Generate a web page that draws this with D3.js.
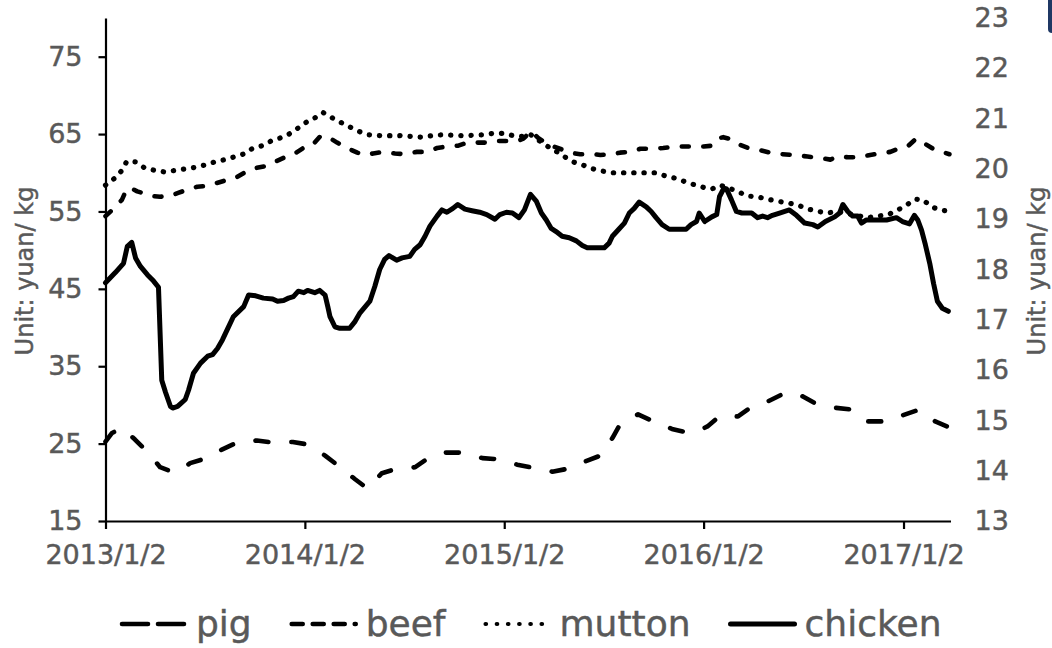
<!DOCTYPE html>
<html>
<head>
<meta charset="utf-8">
<script src="https://cdn.jsdelivr.net/npm/d3@7"></script>
<style>
  html, body { margin: 0; padding: 0; background: #fff; }
  svg { display: block; font-family: "DejaVu Sans", Verdana, sans-serif; }
  .lbl { stroke: #595959; stroke-width: 0.45px; }
</style>
</head>
<body>
<svg id="chart" width="1052" height="648"></svg>
<script>
// ---- data (weekly retail meat prices, yuan/kg) ----
const seriesNames = ["pig", "beef", "mutton", "chicken"];
const leftTicks = [15, 25, 35, 45, 55, 65, 75];
const rightTicks = [13, 14, 15, 16, 17, 18, 19, 20, 21, 22, 23];
const yearTicks = ["2013-01-02", "2014-01-02", "2015-01-02", "2016-01-02", "2017-01-02"];
const dateRange = ["2013-01-02", "2017-03-29"];
const leftRange = [15, 80];
const rightRange = [13, 23];

// pig is read on the right-hand axis
const pig = [
  ["2013-01-02",14.58],["2013-01-14",14.75],["2013-02-01",14.85],["2013-02-25",14.62],
  ["2013-03-19",14.38],["2013-04-12",14.07],["2013-05-04",13.98],["2013-05-18",14.00],
  ["2013-06-06",14.15],["2013-07-03",14.24],["2013-08-03",14.42],["2013-08-31",14.56],
  ["2013-10-06",14.60],["2013-11-03",14.56],["2013-12-11",14.57],["2014-01-08",14.52],
  ["2014-02-08",14.30],["2014-03-04",14.10],["2014-04-04",13.83],["2014-04-26",13.65],
  ["2014-05-23",13.95],["2014-06-16",14.03],["2014-07-23",14.07],["2014-08-16",14.25],
  ["2014-09-16",14.36],["2014-10-17",14.36],["2014-11-23",14.25],["2014-12-20",14.23],
  ["2015-01-26",14.12],["2015-02-18",14.07],["2015-03-31",13.98],["2015-04-24",14.03],
  ["2015-06-03",14.20],["2015-06-27",14.30],["2015-07-19",14.65],["2015-08-02",14.92],
  ["2015-09-04",15.12],["2015-10-02",14.98],["2015-11-05",14.83],["2015-12-03",14.76],
  ["2015-12-21",14.78],["2016-01-09",14.88],["2016-01-31",15.08],["2016-03-05",15.08],
  ["2016-03-27",15.25],["2016-04-29",15.38],["2016-05-27",15.53],["2016-06-12",15.55],
  ["2016-07-01",15.48],["2016-07-24",15.34],["2016-08-30",15.25],["2016-09-26",15.22],
  ["2016-10-28",14.98],["2016-11-30",14.98],["2016-12-31",15.10],["2017-01-27",15.20],
  ["2017-02-11",15.15],["2017-03-01",14.98],["2017-03-25",14.87]
];

const beef = [
  ["2013-01-02",54.4],["2013-01-19",55.5],["2013-02-01",56.5],["2013-02-08",57.6],
  ["2013-02-15",58.1],["2013-03-01",57.6],["2013-03-15",57.3],["2013-03-28",57.0],
  ["2013-04-12",56.9],["2013-04-30",57.0],["2013-05-15",57.4],["2013-05-31",57.8],
  ["2013-06-19",58.2],["2013-07-07",58.3],["2013-07-21",58.6],["2013-08-09",59.0],
  ["2013-08-27",59.3],["2013-09-18",60.2],["2013-10-03",60.6],["2013-10-25",60.9],
  ["2013-11-05",61.3],["2013-11-23",61.9],["2013-12-11",62.3],["2013-12-30",63.2],
  ["2014-01-15",63.5],["2014-01-30",64.7],["2014-02-12",64.7],["2014-03-02",63.9],
  ["2014-03-20",63.2],["2014-04-08",62.6],["2014-04-22",62.3],["2014-05-07",62.5],
  ["2014-05-25",62.7],["2014-06-16",62.5],["2014-07-04",62.4],["2014-07-26",62.7],
  ["2014-08-14",62.7],["2014-09-01",63.2],["2014-09-19",63.4],["2014-10-10",63.5],
  ["2014-10-26",63.9],["2014-11-13",63.9],["2014-12-02",63.9],["2014-12-20",64.1],
  ["2015-01-07",64.1],["2015-01-26",64.1],["2015-02-06",64.4],["2015-02-20",65.4],
  ["2015-03-05",64.5],["2015-03-18",63.9],["2015-04-02",63.4],["2015-04-18",63.0],
  ["2015-05-03",62.6],["2015-05-21",62.4],["2015-06-14",62.4],["2015-06-27",62.3],
  ["2015-07-19",62.4],["2015-08-02",62.6],["2015-08-21",62.7],["2015-09-08",63.1],
  ["2015-09-30",63.1],["2015-10-20",63.2],["2015-11-15",63.4],["2015-12-08",63.4],
  ["2016-01-02",63.4],["2016-01-19",63.5],["2016-02-01",64.5],["2016-02-07",64.6],
  ["2016-02-23",64.3],["2016-03-09",63.6],["2016-03-27",63.1],["2016-04-15",62.9],
  ["2016-05-03",62.6],["2016-05-25",62.4],["2016-06-14",62.3],["2016-07-10",62.1],
  ["2016-08-03",61.9],["2016-08-21",61.7],["2016-09-03",62.1],["2016-09-23",62.0],
  ["2016-10-11",62.0],["2016-11-02",62.3],["2016-11-20",62.5],["2016-12-09",62.7],
  ["2016-12-23",63.1],["2017-01-11",63.5],["2017-01-25",64.4],["2017-02-07",63.9],
  ["2017-02-25",63.1],["2017-03-14",62.7],["2017-03-27",62.4]
];

const mutton = [
  ["2013-01-02",58.4],["2013-01-19",59.3],["2013-02-01",60.3],["2013-02-10",61.5],
  ["2013-02-27",61.4],["2013-03-15",60.6],["2013-04-03",60.3],["2013-04-21",60.1],
  ["2013-05-09",60.3],["2013-05-28",60.5],["2013-06-15",60.7],["2013-07-03",61.0],
  ["2013-07-21",61.4],["2013-08-09",61.7],["2013-08-23",62.0],["2013-09-11",62.4],
  ["2013-09-27",63.1],["2013-10-16",63.5],["2013-11-01",64.1],["2013-11-18",64.5],
  ["2013-12-04",65.0],["2013-12-21",65.8],["2014-01-06",66.6],["2014-01-23",67.2],
  ["2014-02-04",67.8],["2014-02-21",67.1],["2014-03-09",66.5],["2014-03-26",65.9],
  ["2014-04-09",65.4],["2014-04-28",64.9],["2014-05-20",64.8],["2014-06-25",64.8],
  ["2014-07-14",64.7],["2014-08-05",64.6],["2014-08-23",64.8],["2014-09-10",64.9],
  ["2014-10-17",64.8],["2014-11-24",64.9],["2014-12-13",65.1],["2014-12-31",65.1],
  ["2015-01-18",64.8],["2015-02-06",64.7],["2015-02-18",65.0],["2015-03-18",63.6],
  ["2015-04-11",62.6],["2015-04-24",62.0],["2015-05-08",61.4],["2015-05-26",61.0],
  ["2015-06-14",60.5],["2015-07-02",60.2],["2015-07-20",60.0],["2015-08-28",60.0],
  ["2015-10-05",60.0],["2015-10-24",59.6],["2015-11-11",59.3],["2015-11-27",58.9],
  ["2015-12-14",58.5],["2016-01-02",58.1],["2016-01-17",57.9],["2016-02-01",58.4],
  ["2016-02-14",58.1],["2016-03-04",57.6],["2016-03-22",57.0],["2016-04-09",56.9],
  ["2016-04-27",56.6],["2016-05-18",56.3],["2016-06-05",56.1],["2016-06-23",55.8],
  ["2016-07-12",55.3],["2016-07-30",55.0],["2016-08-15",54.8],["2016-09-03",55.0],
  ["2016-09-30",54.6],["2016-10-28",54.2],["2016-11-17",54.4],["2016-12-05",54.6],
  ["2016-12-23",55.2],["2017-01-09",55.9],["2017-01-23",56.6],["2017-02-07",56.5],
  ["2017-02-22",55.6],["2017-03-10",55.2],["2017-03-19",55.1]
];

const chicken = [
  ["2013-01-02",45.8],["2013-01-20",47.1],["2013-02-04",48.3],["2013-02-11",50.5],
  ["2013-02-19",51.0],["2013-02-26",49.0],["2013-03-07",47.9],["2013-03-20",46.8],
  ["2013-03-31",46.0],["2013-04-09",45.2],["2013-04-15",33.2],["2013-04-22",31.6],
  ["2013-05-01",29.8],["2013-05-05",29.6],["2013-05-14",29.8],["2013-05-28",30.7],
  ["2013-06-03",31.9],["2013-06-12",34.1],["2013-06-25",35.4],["2013-07-08",36.3],
  ["2013-07-17",36.5],["2013-07-26",37.3],["2013-08-04",38.4],["2013-08-12",39.6],
  ["2013-08-24",41.4],["2013-09-12",42.7],["2013-09-21",44.2],["2013-10-04",44.1],
  ["2013-10-18",43.8],["2013-11-04",43.7],["2013-11-13",43.4],["2013-11-24",43.5],
  ["2013-12-03",43.8],["2013-12-12",44.0],["2013-12-21",44.7],["2013-12-31",44.5],
  ["2014-01-07",44.8],["2014-01-20",44.5],["2014-01-29",44.8],["2014-02-08",44.2],
  ["2014-02-13",42.7],["2014-02-17",41.4],["2014-02-26",40.1],["2014-03-07",39.9],
  ["2014-03-25",39.9],["2014-04-04",40.8],["2014-04-13",41.9],["2014-05-01",43.4],
  ["2014-05-10",45.3],["2014-05-19",47.5],["2014-05-28",48.8],["2014-06-05",49.3],
  ["2014-06-19",48.7],["2014-06-29",49.0],["2014-07-13",49.2],["2014-07-22",50.1],
  ["2014-08-01",50.7],["2014-08-10",51.8],["2014-08-19",53.1],["2014-09-01",54.4],
  ["2014-09-10",55.2],["2014-09-19",54.9],["2014-09-30",55.4],["2014-10-09",55.9],
  ["2014-10-22",55.3],["2014-11-04",55.1],["2014-11-18",54.9],["2014-12-01",54.6],
  ["2014-12-16",54.0],["2014-12-25",54.6],["2015-01-06",54.9],["2015-01-17",54.8],
  ["2015-01-29",54.2],["2015-02-08",55.2],["2015-02-19",57.2],["2015-03-02",56.3],
  ["2015-03-11",54.8],["2015-03-20",53.9],["2015-03-29",52.8],["2015-04-07",52.4],
  ["2015-04-18",51.8],["2015-05-01",51.6],["2015-05-14",51.2],["2015-05-25",50.6],
  ["2015-06-03",50.3],["2015-07-04",50.3],["2015-07-13",50.9],["2015-07-19",51.8],
  ["2015-08-01",52.8],["2015-08-10",53.5],["2015-08-19",54.8],["2015-08-28",55.4],
  ["2015-09-06",56.2],["2015-09-19",55.6],["2015-09-28",55.0],["2015-10-07",54.2],
  ["2015-10-18",53.3],["2015-10-31",52.7],["2015-12-01",52.7],["2015-12-10",53.3],
  ["2015-12-20",53.7],["2015-12-25",54.8],["2016-01-04",53.7],["2016-01-17",54.3],
  ["2016-01-26",54.6],["2016-01-31",56.9],["2016-02-08",58.0],["2016-02-13",57.9],
  ["2016-02-22",56.5],["2016-03-02",55.0],["2016-03-12",54.8],["2016-03-30",54.8],
  ["2016-04-10",54.2],["2016-04-19",54.4],["2016-04-28",54.2],["2016-05-07",54.5],
  ["2016-05-20",54.8],["2016-06-07",55.2],["2016-06-20",54.5],["2016-07-05",53.5],
  ["2016-07-20",53.3],["2016-07-29",53.0],["2016-08-12",53.7],["2016-08-29",54.3],
  ["2016-09-07",54.8],["2016-09-13",55.9],["2016-09-22",55.0],["2016-10-01",54.4],
  ["2016-10-10",54.4],["2016-10-17",53.5],["2016-10-26",53.9],["2016-11-14",53.9],
  ["2016-12-02",53.9],["2016-12-20",54.2],["2016-12-31",53.7],["2017-01-13",53.4],
  ["2017-01-22",54.5],["2017-01-28",53.9],["2017-02-04",52.6],["2017-02-11",50.7],
  ["2017-02-19",48.3],["2017-02-26",45.7],["2017-03-05",43.4],["2017-03-14",42.5],
  ["2017-03-25",42.1]
];

// ---- layout ----
const plot = { left: 105.5, right: 950.5, top: 18, bottom: 521 };
const textColor = "#595959";
const parse = d3.timeParse("%Y-%m-%d");

const svg = d3.select("#chart");

const x = d3.scaleTime().domain(dateRange.map(parse)).range([plot.left, plot.right]);
const yL = d3.scaleLinear().domain(leftRange).range([plot.bottom, plot.top]);
const yR = d3.scaleLinear().domain(rightRange).range([plot.bottom, plot.top]);

// line styles per series
const styles = {
  pig:     { axis: yR, width: 4.6, dash: "13,23",   legendDash: "26,10",    legendWidth: 4.6 },
  beef:    { axis: yL, width: 4.6, dash: "7,14.5",  legendDash: "11,10",    legendWidth: 4.6 },
  mutton:  { axis: yL, width: 5.2, dash: "0.3,9.9", legendDash: "0.5,10.7", legendWidth: 4.2 },
  chicken: { axis: yL, width: 5,   dash: null,      legendDash: null,       legendWidth: 5 }
};
const seriesData = { pig, beef, mutton, chicken };

// ---- axes ----
const axisFont = 27;

const gLeft = svg.append("g")
  .attr("transform", `translate(${plot.left},0)`)
  .call(d3.axisLeft(yL).tickValues(leftTicks).tickSize(7).tickPadding(16).tickSizeOuter(0));

const gBottom = svg.append("g")
  .attr("transform", `translate(0,${plot.bottom})`)
  .call(d3.axisBottom(x)
    .tickValues(yearTicks.map(parse))
    .tickFormat(d3.timeFormat("%Y/%-m/%-d"))
    .tickSize(8).tickPadding(16).tickSizeOuter(0));

const gRight = svg.append("g")
  .attr("transform", `translate(${plot.right},0)`)
  .call(d3.axisRight(yR).tickValues(rightTicks).tickSize(0).tickPadding(24));
gRight.select(".domain").remove();

[gLeft, gBottom, gRight].forEach(g => {
  g.selectAll(".domain").attr("stroke", "#000").attr("stroke-width", 2.2);
  g.selectAll(".tick line").attr("stroke", "#000").attr("stroke-width", 2.2);
  g.selectAll(".tick text")
    .attr("class", "lbl")
    .attr("fill", textColor)
    .style("font-size", axisFont + "px")
    .style("font-family", '"DejaVu Sans", Verdana, sans-serif');
});

// axis titles
const titleFont = 24;
svg.append("text")
  .attr("class", "lbl")
  .attr("transform", `translate(33,271) rotate(-90)`)
  .attr("text-anchor", "middle")
  .attr("fill", textColor)
  .style("font-size", titleFont + "px")
  .text("Unit: yuan/ kg");
svg.append("text")
  .attr("class", "lbl")
  .attr("transform", `translate(1045,271) rotate(-90)`)
  .attr("text-anchor", "middle")
  .attr("fill", textColor)
  .style("font-size", titleFont + "px")
  .text("Unit: yuan/ kg");

// ---- series lines ----
const gLines = svg.append("g");
seriesNames.forEach(name => {
  const st = styles[name];
  const line = d3.line()
    .x(d => x(parse(d[0])))
    .y(d => st.axis(d[1]))
    .curve(d3.curveLinear);
  gLines.append("path")
    .datum(seriesData[name])
    .attr("d", line)
    .attr("fill", "none")
    .attr("stroke", "#000")
    .attr("stroke-width", st.width)
    .attr("stroke-linecap", "round")
    .attr("stroke-linejoin", "round")
    .attr("stroke-dasharray", st.dash);
});

// ---- legend ----
const legendFont = 36;
const legendY = 624;
const symbolLen = 64, symbolGap = 10, itemGap = 40;
let lx = 122;
const gLegend = svg.append("g");
seriesNames.forEach(name => {
  const st = styles[name];
  gLegend.append("line")
    .attr("x1", lx).attr("x2", lx + symbolLen)
    .attr("y1", legendY).attr("y2", legendY)
    .attr("stroke", "#000")
    .attr("stroke-width", st.legendWidth)
    .attr("stroke-linecap", "round")
    .attr("stroke-dasharray", st.legendDash);
  const t = gLegend.append("text")
    .attr("class", "lbl")
    .attr("x", lx + symbolLen + symbolGap)
    .attr("y", legendY + 12)
    .attr("fill", textColor)
    .style("font-size", legendFont + "px")
    .text(name);
  lx += symbolLen + symbolGap + t.node().getComputedTextLength() + itemGap;
});

// corner tab
svg.append("path")
  .attr("d", "M1048,0 H1052 V33 H1052 Q1048,33 1048,29 Z")
  .attr("fill", "#1f3864");
</script>
</body>
</html>
